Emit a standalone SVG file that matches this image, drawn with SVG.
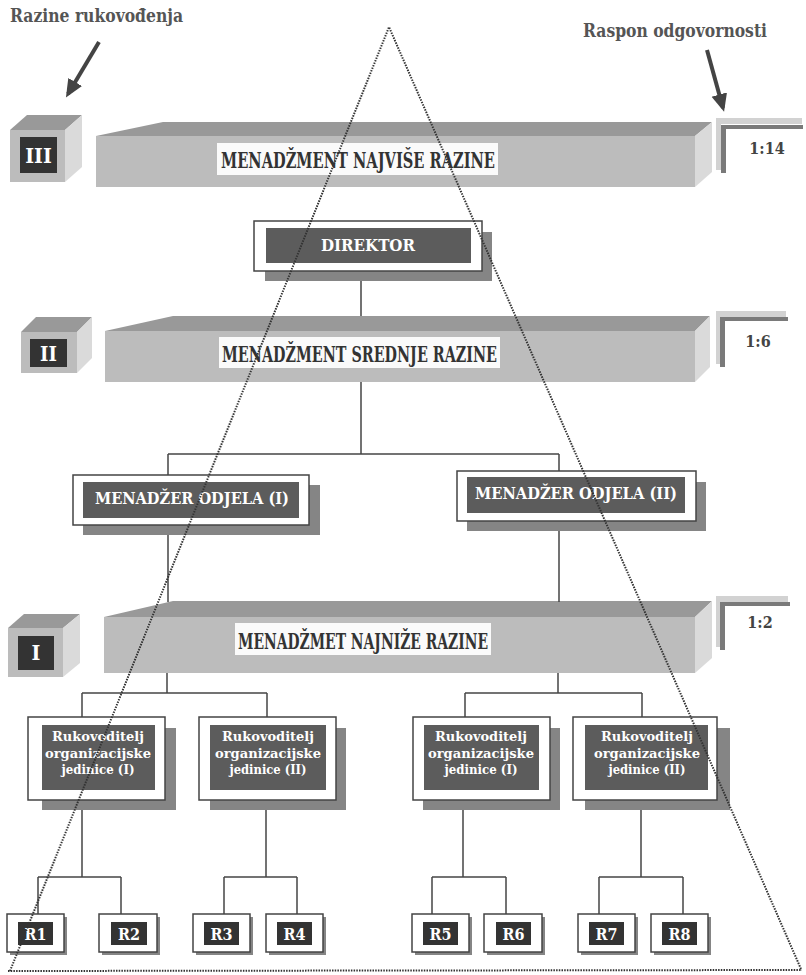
<svg xmlns="http://www.w3.org/2000/svg" width="806" height="975" viewBox="0 0 806 975">
<style>
text{font-family:"DejaVu Serif Condensed","DejaVu Serif","Liberation Serif",serif;font-weight:bold}
.lbl{fill:#555;font-size:18px}
.bartxt{fill:#333;font-size:23px}
.ratio{fill:#444;font-size:16px}
.wt{fill:#fff;text-anchor:middle}
.rk{font-size:13.5px}
.front{fill:#bcbcbc}
.top{fill:#999}
.side{fill:#dadada}
.wbg{fill:#fafafa}
.dark{fill:#333}
.mid{fill:#5c5c5c}
.shadow{fill:#858585}
.outer{fill:#fff;stroke:#444;stroke-width:1.5}
.conn line{stroke:#444;stroke-width:1.5}
.dot{stroke:#333;stroke-width:2;stroke-dasharray:1.5 1.2;fill:none}
.br{fill:#7a7a7a}
.brs{fill:#d2d2d2}
</style>
<defs>
<marker id="ah" markerUnits="userSpaceOnUse" markerWidth="20" markerHeight="18" refX="14" refY="8" orient="auto">
<path d="M0,0 L18,8 L0,16 Z" fill="#444"/>
</marker>
</defs>

<g id="labels">
<text class="lbl" x="10" y="22" textLength="173" lengthAdjust="spacingAndGlyphs">Razine rukovođenja</text>
<text class="lbl" x="583" y="37" textLength="184" lengthAdjust="spacingAndGlyphs">Raspon odgovornosti</text>
<line x1="99" y1="42" x2="68" y2="94" stroke="#444" stroke-width="4" marker-end="url(#ah)"/>
<line x1="707" y1="50" x2="723" y2="108" stroke="#444" stroke-width="4" marker-end="url(#ah)"/>
</g>

<!-- Level III -->
<g id="cube-III">
<polygon class="top" points="10,130 27,115 82,115 65,130"/>
<polygon class="side" points="65,130 82,115 82,167 65,182"/>
<rect class="front" x="10" y="130" width="55" height="52"/>
<rect class="dark" x="20" y="137" width="37" height="36"/>
<text class="wt" x="38.5" y="163" font-size="21">III</text>
</g>
<g id="bar-III">
<polygon class="top" points="96,136 163,122 712,122 695,136"/>
<polygon class="side" points="695,136 712,122 712,172 695,187"/>
<rect class="front" x="96" y="136" width="599" height="51"/>
<rect class="wbg" x="217" y="143" width="281" height="32"/>
<text class="bartxt" x="221" y="168" textLength="274" lengthAdjust="spacingAndGlyphs">MENADŽMENT NAJVIŠE RAZINE</text>
</g>
<g id="span-14">
<polygon class="brs" points="716,118 802,118 802,124 721,124 721,170 716,170"/>
<polygon class="br" points="721,125 803,125 803,129 726,129 726,173 721,173"/>
<text class="ratio" x="767" y="154" text-anchor="middle">1:14</text>
</g>

<g id="direktor">
<rect class="shadow" x="265" y="232" width="227" height="49"/>
<rect class="outer" x="254" y="221" width="228" height="50"/>
<rect class="mid" x="266" y="228" width="205" height="35"/>
<text class="wt" x="368" y="251" font-size="17" textLength="94" lengthAdjust="spacingAndGlyphs">DIREKTOR</text>
</g>

<!-- Level II -->
<g id="cube-II">
<polygon class="top" points="21,332 36,317 92,317 77,332"/>
<polygon class="side" points="77,332 92,317 92,358 77,373"/>
<rect class="front" x="21" y="332" width="56" height="41"/>
<rect class="dark" x="30" y="339" width="37" height="28"/>
<text class="wt" x="48.5" y="361" font-size="20">II</text>
</g>
<g id="bar-II">
<polygon class="top" points="105,331 173,316 710,316 695,331"/>
<polygon class="side" points="695,331 710,316 710,367 695,382"/>
<rect class="front" x="105" y="331" width="590" height="51"/>
<rect class="wbg" x="219" y="337" width="281" height="31"/>
<text class="bartxt" x="222" y="362" textLength="275" lengthAdjust="spacingAndGlyphs">MENADŽMENT SREDNJE RAZINE</text>
</g>
<g id="span-6">
<polygon class="brs" points="716,311 786,311 786,317 720,317 720,364 716,364"/>
<polygon class="br" points="720,317 788,317 788,321 725,321 725,367 720,367"/>
<text class="ratio" x="758" y="347" text-anchor="middle">1:6</text>
</g>

<g id="menadzer-I">
<rect class="shadow" x="83" y="485" width="237" height="50"/>
<rect class="outer" x="73" y="475" width="236" height="50"/>
<rect class="mid" x="83" y="482" width="216" height="36"/>
<text class="wt" x="192" y="504" font-size="17" textLength="194" lengthAdjust="spacingAndGlyphs">MENADŽER ODJELA (I)</text>
</g>
<g id="menadzer-II">
<rect class="shadow" x="467" y="482" width="239" height="49"/>
<rect class="outer" x="457" y="471" width="239" height="50"/>
<rect class="mid" x="467" y="477" width="218" height="36"/>
<text class="wt" x="576" y="499" font-size="17" textLength="202" lengthAdjust="spacingAndGlyphs">MENADŽER ODJELA (II)</text>
</g>

<!-- Level I -->
<g id="cube-I">
<polygon class="top" points="8,628 24,614 80,614 63,628"/>
<polygon class="side" points="63,628 80,614 80,663 63,677"/>
<rect class="front" x="8" y="628" width="55" height="49"/>
<rect class="dark" x="18" y="636" width="36" height="34"/>
<text class="wt" x="36" y="660" font-size="21">I</text>
</g>
<g id="bar-I">
<polygon class="top" points="104,617 173,601 712,601 695,617"/>
<polygon class="side" points="695,617 712,601 712,658 695,673"/>
<rect class="front" x="104" y="617" width="591" height="56"/>
<rect class="wbg" x="235" y="623" width="256" height="32"/>
<text class="bartxt" x="238" y="649" textLength="250" lengthAdjust="spacingAndGlyphs">MENADŽMET NAJNIŽE RAZINE</text>
</g>
<g id="span-2">
<polygon class="brs" points="716,596 788,596 788,602 720,602 720,647 716,647"/>
<polygon class="br" points="720,602 790,602 790,606 725,606 725,650 720,650"/>
<text class="ratio" x="760" y="628" text-anchor="middle">1:2</text>
</g>

<g id="ruk-1">
<rect class="shadow" x="42" y="728" width="134" height="82"/>
<rect class="outer" x="28" y="717" width="137" height="83"/>
<rect class="mid" x="42" y="725" width="113" height="65"/>
<text class="wt rk"><tspan x="98" y="741" textLength="92" lengthAdjust="spacingAndGlyphs">Rukovoditelj</tspan><tspan x="98" y="757.5" textLength="106" lengthAdjust="spacingAndGlyphs">organizacijske</tspan><tspan x="98" y="774" textLength="73" lengthAdjust="spacingAndGlyphs">jedinice (I)</tspan></text>
</g>
<g id="ruk-2">
<rect class="shadow" x="210" y="728" width="136" height="82"/>
<rect class="outer" x="199" y="717" width="137" height="83"/>
<rect class="mid" x="210" y="725" width="116" height="65"/>
<text class="wt rk"><tspan x="268" y="741" textLength="92" lengthAdjust="spacingAndGlyphs">Rukovoditelj</tspan><tspan x="268" y="757.5" textLength="106" lengthAdjust="spacingAndGlyphs">organizacijske</tspan><tspan x="268" y="774" textLength="77" lengthAdjust="spacingAndGlyphs">jedinice (II)</tspan></text>
</g>
<g id="ruk-3">
<rect class="shadow" x="423" y="728" width="137" height="82"/>
<rect class="outer" x="413" y="717" width="137" height="83"/>
<rect class="mid" x="424" y="725" width="115" height="65"/>
<text class="wt rk"><tspan x="481" y="741" textLength="92" lengthAdjust="spacingAndGlyphs">Rukovoditelj</tspan><tspan x="481" y="757.5" textLength="106" lengthAdjust="spacingAndGlyphs">organizacijske</tspan><tspan x="481" y="774" textLength="73" lengthAdjust="spacingAndGlyphs">jedinice (I)</tspan></text>
</g>
<g id="ruk-4">
<rect class="shadow" x="585" y="728" width="145" height="82"/>
<rect class="outer" x="573" y="717" width="144" height="83"/>
<rect class="mid" x="585" y="725" width="123" height="65"/>
<text class="wt rk"><tspan x="647" y="741" textLength="92" lengthAdjust="spacingAndGlyphs">Rukovoditelj</tspan><tspan x="647" y="757.5" textLength="106" lengthAdjust="spacingAndGlyphs">organizacijske</tspan><tspan x="647" y="774" textLength="77" lengthAdjust="spacingAndGlyphs">jedinice (II)</tspan></text>
</g>

<g id="r-boxes">
<g id="R1"><rect class="shadow" x="10" y="917" width="57" height="38"/><rect class="outer" x="7" y="914" width="57" height="38"/><rect class="dark" x="18" y="922" width="35" height="23"/><text class="wt" x="35.5" y="940" font-size="16">R1</text></g>
<g id="R2"><rect class="shadow" x="102" y="917" width="58" height="38"/><rect class="outer" x="99" y="914" width="58" height="38"/><rect class="dark" x="111" y="922" width="36" height="23"/><text class="wt" x="129" y="940" font-size="16">R2</text></g>
<g id="R3"><rect class="shadow" x="196" y="917" width="57" height="38"/><rect class="outer" x="193" y="914" width="57" height="38"/><rect class="dark" x="204" y="922" width="35" height="23"/><text class="wt" x="221.5" y="940" font-size="16">R3</text></g>
<g id="R4"><rect class="shadow" x="269" y="917" width="57" height="38"/><rect class="outer" x="266" y="914" width="57" height="38"/><rect class="dark" x="277" y="922" width="35" height="23"/><text class="wt" x="294.5" y="940" font-size="16">R4</text></g>
<g id="R5"><rect class="shadow" x="415" y="917" width="57" height="38"/><rect class="outer" x="412" y="914" width="57" height="38"/><rect class="dark" x="423" y="922" width="35" height="23"/><text class="wt" x="440.5" y="940" font-size="16">R5</text></g>
<g id="R6"><rect class="shadow" x="487" y="917" width="58" height="38"/><rect class="outer" x="484" y="914" width="58" height="38"/><rect class="dark" x="496" y="922" width="35" height="23"/><text class="wt" x="513.5" y="940" font-size="16">R6</text></g>
<g id="R7"><rect class="shadow" x="581" y="917" width="57" height="38"/><rect class="outer" x="578" y="914" width="57" height="38"/><rect class="dark" x="589" y="922" width="35" height="23"/><text class="wt" x="606.5" y="940" font-size="16">R7</text></g>
<g id="R8"><rect class="shadow" x="654" y="917" width="57" height="38"/><rect class="outer" x="651" y="914" width="57" height="38"/><rect class="dark" x="662" y="922" width="35" height="23"/><text class="wt" x="679.5" y="940" font-size="16">R8</text></g>
</g>

<g id="connectors" class="conn">
<line x1="361" y1="281" x2="361" y2="316"/>
<line x1="361" y1="382" x2="361" y2="454"/>
<line x1="168" y1="454" x2="559" y2="454"/>
<line x1="168" y1="454" x2="168" y2="475"/>
<line x1="559" y1="454" x2="559" y2="471"/>
<line x1="168" y1="535" x2="168" y2="602"/>
<line x1="559" y1="531" x2="559" y2="602"/>
<line x1="167" y1="673" x2="167" y2="693"/>
<line x1="82" y1="693" x2="267" y2="693"/>
<line x1="82" y1="693" x2="82" y2="717"/>
<line x1="267" y1="693" x2="267" y2="717"/>
<line x1="558" y1="673" x2="558" y2="693"/>
<line x1="465" y1="693" x2="642" y2="693"/>
<line x1="465" y1="693" x2="465" y2="717"/>
<line x1="642" y1="693" x2="642" y2="717"/>
<line x1="82" y1="810" x2="82" y2="877"/>
<line x1="38" y1="877" x2="121" y2="877"/>
<line x1="38" y1="877" x2="38" y2="914"/>
<line x1="121" y1="877" x2="121" y2="914"/>
<line x1="266" y1="810" x2="266" y2="877"/>
<line x1="224" y1="877" x2="297" y2="877"/>
<line x1="224" y1="877" x2="224" y2="914"/>
<line x1="297" y1="877" x2="297" y2="914"/>
<line x1="463" y1="810" x2="463" y2="877"/>
<line x1="432" y1="877" x2="506" y2="877"/>
<line x1="432" y1="877" x2="432" y2="914"/>
<line x1="506" y1="877" x2="506" y2="914"/>
<line x1="641" y1="810" x2="641" y2="877"/>
<line x1="599" y1="877" x2="683" y2="877"/>
<line x1="599" y1="877" x2="599" y2="914"/>
<line x1="683" y1="877" x2="683" y2="914"/>
</g>

<g id="pyramid">
<polyline class="dot" points="10,971 389,27 801,969"/>
<line class="dot" x1="8" y1="971" x2="802" y2="970"/>
</g>
</svg>
